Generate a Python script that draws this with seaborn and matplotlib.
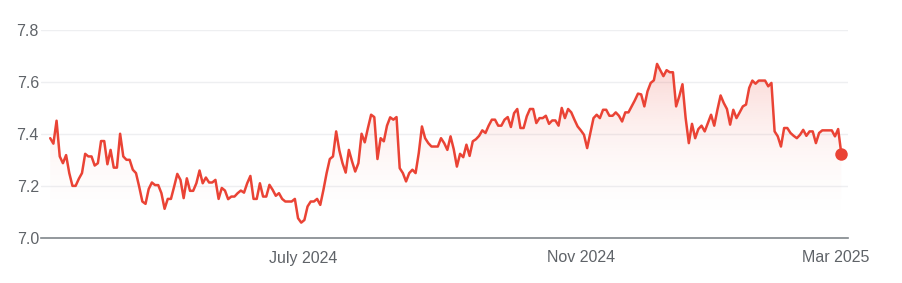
import numpy as np
import pandas as pd
import matplotlib
matplotlib.use("Agg")
import matplotlib.pyplot as plt
import seaborn as sns

# ---- data ----
values = [
    7.383, 7.362, 7.45, 7.313, 7.287, 7.318, 7.249, 7.2, 7.2, 7.227,
    7.249, 7.323, 7.313, 7.313, 7.278, 7.287, 7.372, 7.372, 7.283, 7.338,
    7.27, 7.27, 7.4, 7.313, 7.3, 7.3, 7.262, 7.249, 7.197, 7.14,
    7.131, 7.188, 7.213, 7.203, 7.203, 7.172, 7.112, 7.15, 7.15, 7.197,
    7.246, 7.223, 7.153, 7.229, 7.181, 7.181, 7.21, 7.259, 7.21, 7.232,
    7.213, 7.213, 7.223, 7.15, 7.192, 7.182, 7.149, 7.159, 7.159, 7.172,
    7.182, 7.174, 7.21, 7.238, 7.15, 7.15, 7.21, 7.159, 7.159, 7.204,
    7.185, 7.162, 7.172, 7.15, 7.14, 7.14, 7.14, 7.15,
    7.076, 7.059, 7.069, 7.121, 7.14, 7.14, 7.15, 7.127, 7.185, 7.249,
    7.303, 7.313, 7.409, 7.336, 7.287, 7.251, 7.338, 7.294, 7.255, 7.287,
    7.4, 7.367, 7.422, 7.473, 7.464, 7.303, 7.383, 7.371, 7.431, 7.463,
    7.454, 7.464, 7.268, 7.249, 7.217, 7.249, 7.262, 7.249, 7.326, 7.428,
    7.383, 7.364, 7.351, 7.351, 7.351, 7.383, 7.364, 7.338, 7.39, 7.341,
    7.274, 7.323, 7.31, 7.358, 7.315, 7.371, 7.379, 7.392, 7.413, 7.403,
    7.431, 7.454, 7.454, 7.431, 7.431, 7.454, 7.464, 7.426, 7.479, 7.495,
    7.422, 7.422, 7.467, 7.495, 7.495, 7.441, 7.46, 7.46, 7.469, 7.438,
    7.451, 7.451, 7.431, 7.499, 7.46, 7.495, 7.482, 7.454, 7.428,
    7.413, 7.396, 7.345, 7.403, 7.46, 7.473, 7.46, 7.492, 7.492, 7.469,
    7.469, 7.482, 7.469, 7.447, 7.482, 7.482, 7.505, 7.528, 7.554, 7.551,
    7.505, 7.563, 7.595, 7.605, 7.668, 7.644, 7.621, 7.644, 7.636, 7.636,
    7.505, 7.544, 7.59, 7.46, 7.364, 7.438, 7.383, 7.418, 7.431, 7.409,
    7.441, 7.473, 7.431, 7.492, 7.547, 7.518, 7.495, 7.435, 7.492, 7.46,
    7.482, 7.505, 7.512, 7.576, 7.604, 7.592, 7.604, 7.604, 7.604, 7.582,
    7.595, 7.409, 7.39, 7.351, 7.422, 7.422, 7.403, 7.392, 7.383, 7.396,
    7.415, 7.392, 7.409, 7.409, 7.364, 7.403, 7.413, 7.413, 7.413, 7.413,
    7.39, 7.418, 7.323,
]
tick_labels = ["July 2024", "Nov 2024", "Mar 2025"]
tick_index = [79.6, 167.2, 247.3]
y_ticks = [7.0, 7.2, 7.4, 7.6, 7.8]
y_labels = ["7.0", "7.2", "7.4", "7.6", "7.8"]

df = pd.DataFrame({"idx": np.arange(len(values)), "value": values})

RED = "#ea4335"
GRID = "#eeeff1"
AXIS = "#80868b"
TEXT = "#5f6368"

sns.set_theme(style="white")
plt.rcParams["font.family"] = ["Liberation Sans", "DejaVu Sans"]

fig = plt.figure(figsize=(9.03, 2.83), dpi=100)
ax = fig.add_axes([41 / 903, 1 - 238 / 283, (848 - 41) / 903, (238 - 29.5) / 283])

n = len(values)
ax.set_xlim(-2.9, (n - 1) + 2.1)
ax.set_ylim(7.0, 7.8)

# gridlines
for yt in y_ticks[1:]:
    ax.axhline(yt, color=GRID, lw=1.0, zorder=0)

# gradient fill under the line
poly = ax.fill_between(df["idx"], df["value"], 7.0, facecolor="none", edgecolor="none")
ymax = max(values)
h = 400
ys = np.linspace(7.0, ymax, h)
alpha = 0.22 * ((ys - 7.0) / (ymax - 7.0)) ** 2.2
rgba = np.zeros((h, 2, 4))
rgba[..., 0] = 234 / 255
rgba[..., 1] = 67 / 255
rgba[..., 2] = 53 / 255
rgba[..., 3] = alpha[:, None]
im = ax.imshow(rgba, extent=[0, n - 1, 7.0, ymax], origin="lower",
               aspect="auto", zorder=1, interpolation="bilinear")
im.set_clip_path(poly.get_paths()[0], transform=ax.transData)

sns.lineplot(data=df, x="idx", y="value", ax=ax, color=RED, lw=1.8, zorder=3)
ax.plot([df["idx"].iloc[-1]], [df["value"].iloc[-1]], "o", color=RED,
        markersize=9, zorder=4, markeredgewidth=0)

ax.set_xlabel("")
ax.set_ylabel("")
for s in ["top", "right", "left"]:
    ax.spines[s].set_visible(False)
ax.spines["bottom"].set_color(AXIS)
ax.spines["bottom"].set_linewidth(1.2)

ax.set_yticks(y_ticks)
ax.set_yticklabels(y_labels)
ax.set_xticks(tick_index)
ax.set_xticklabels(tick_labels)
ax.tick_params(axis="y", length=0, pad=1.5, labelsize=11.5, labelcolor=TEXT)
ax.tick_params(axis="x", length=7, width=1.0, color=AXIS, pad=2,
               labelsize=11.5, labelcolor=TEXT, direction="out")

fig.savefig("out.png", dpi=100)
